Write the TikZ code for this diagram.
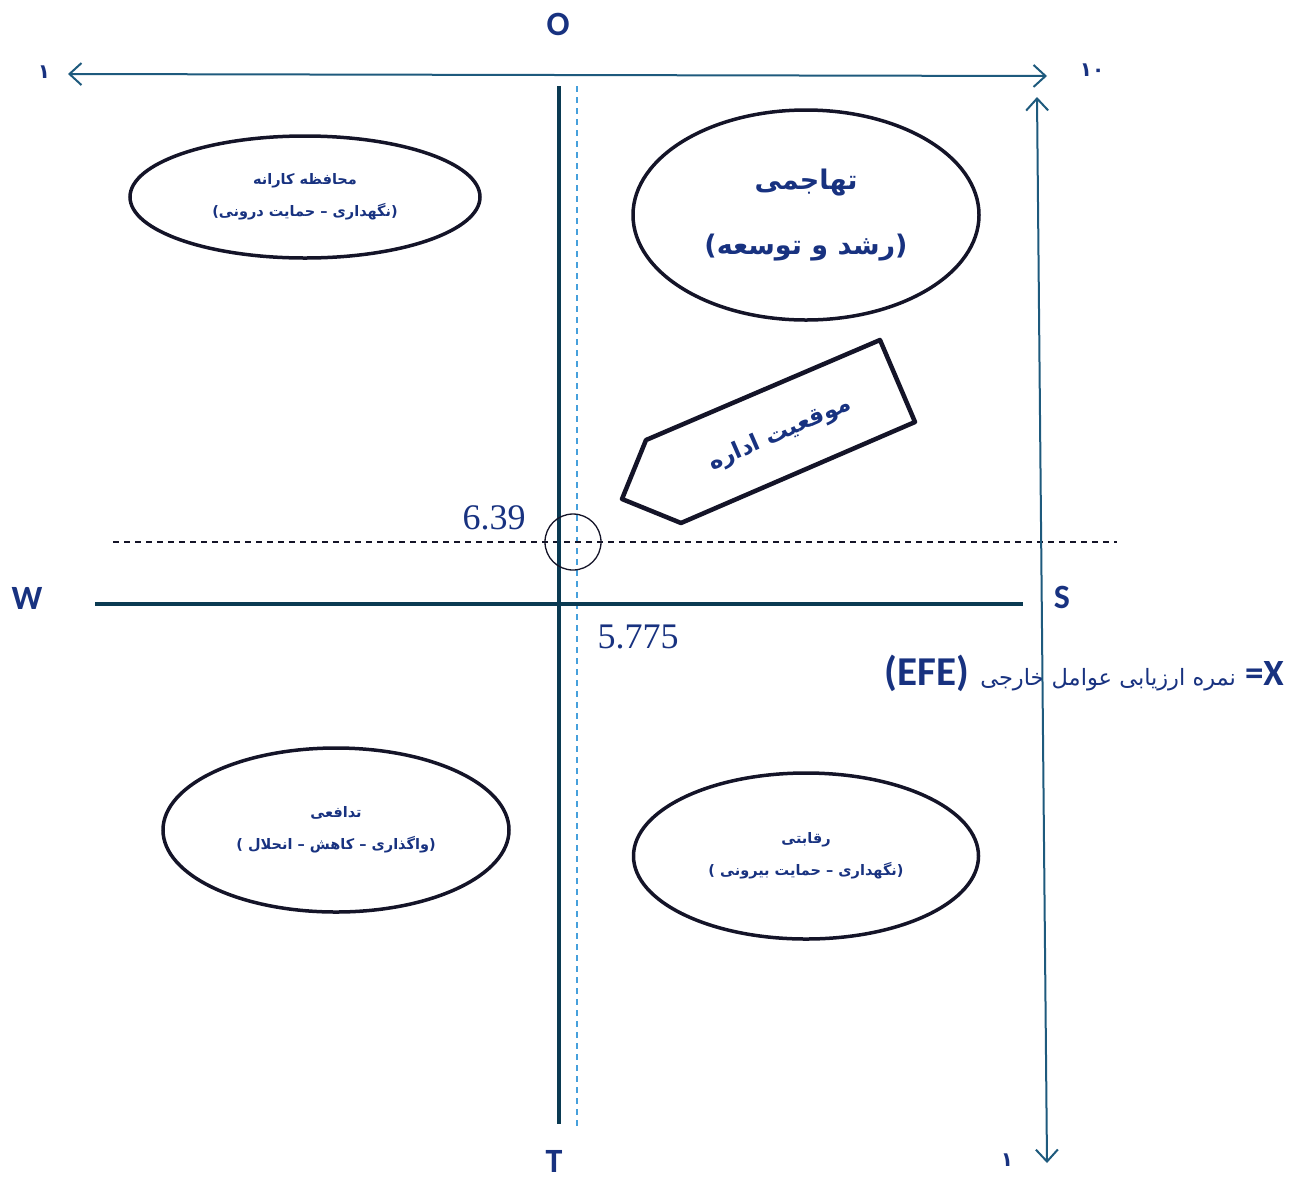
\documentclass[tikz,border=0pt]{standalone}
\usepackage{fontspec}
\setmainfont{Liberation Serif}
\newfontfamily\arabicfont[Script=Arabic]{DejaVu Sans}
\newfontfamily\labfont{Carlito}
\TeXXeTstate=1
\usetikzlibrary{shapes.geometric,arrows.meta}
\definecolor{txtblue}{RGB}{24,50,128}
\definecolor{axiscol}{RGB}{10,58,82}
\definecolor{arrcol}{RGB}{30,90,125}
\definecolor{dashblue}{RGB}{70,160,220}
\definecolor{inkcol}{RGB}{20,20,40}
\begin{document}
\begin{tikzpicture}[x=1pt,y=-1pt,
  axisline/.style={draw=axiscol,line width=4.5pt},
  scalearrow/.style={draw=arrcol,line width=2pt,{Straight Barb[length=12pt,width=22pt]}-{Straight Barb[length=12pt,width=22pt]}},
  quad/.style={ellipse,draw=inkcol,line width=3.5pt,inner sep=0pt,align=center,text=txtblue},
  axlabel/.style={text=txtblue,font=\labfont\bfseries\fontsize{34}{38}\selectfont,inner sep=0pt},
  numlabel/.style={text=txtblue,font=\fontsize{36}{40}\selectfont,inner sep=0pt},
  digit/.style={text=txtblue,font=\arabicfont\bfseries\fontsize{20}{24}\selectfont,inner sep=0pt},
  pentline/.style={draw=inkcol,line width=4.5pt,line join=round}
]
\useasboundingbox (0,0) rectangle (1300,1179);

% coordinates
\coordinate (vtop) at (559,86);
\coordinate (vbot) at (559,1124);
\coordinate (hl) at (95,604);
\coordinate (hr) at (1023,604);
\coordinate (dvt) at (577,86);
\coordinate (dvb) at (577,1130);
\coordinate (dhl) at (113,542);
\coordinate (dhr) at (1117,542);
\coordinate (tal) at (68,74);
\coordinate (tar) at (1047,76);
\coordinate (rat) at (1037,97);
\coordinate (rab) at (1047,1163);

% dashed guides
\draw[dashblue,line width=1.3pt,dash pattern=on 6pt off 5pt] (dvt) -- (dvb);
\draw[inkcol,line width=1.1pt,dash pattern=on 6pt off 5pt] (dhl) -- (dhr);

% axes
\draw[axisline] (vtop) -- (vbot);
\draw[axisline] (hl) -- (hr);

% marker circle
\node[circle,draw=inkcol,line width=1.3pt,minimum size=56pt,inner sep=0pt] (mark) at (573,542) {};

% numbers
\node[numlabel] (v639) at (494,518) {6.39};
\node[numlabel] (v5775) at (638,637) {5.775};

% axis labels
\node[axlabel] (O) at (558,24) {O};
\node[axlabel] (W) at (27,598) {W};
\node[axlabel] (S) at (1062,597) {S};
\node[axlabel,anchor=base] (T) at (554,1172) {T};

% scale digits
\node[digit] (one1) at (44,72) {۱};
\node[digit] (ten) at (1092,70) {۱۰};
\node[digit] (one2) at (1007,1160) {۱};

% quadrant ellipses
\node[quad,minimum width=350pt,minimum height=122pt,
  font=\arabicfont\bfseries\fontsize{14.5}{32}\selectfont] (wo) at (305,197)
  {\beginR محافظه کارانه\endR\\\beginR(نگهداری – حمایت درونی)\endR};
\node[quad,minimum width=346pt,minimum height=210pt,
  font=\arabicfont\bfseries\fontsize{27}{65}\selectfont] (so) at (806,215)
  {\beginR تهاجمی\endR\\\beginR(رشد و توسعه)\endR};
\node[quad,minimum width=346pt,minimum height=164pt,
  font=\arabicfont\bfseries\fontsize{14.5}{32}\selectfont] (wt) at (336,830)
  {\beginR تدافعی\endR\\\beginR(واگذاری – کاهش – انحلال )\endR};
\node[quad,minimum width=345pt,minimum height=166pt,
  font=\arabicfont\bfseries\fontsize{14.5}{32}\selectfont] (st) at (806,856)
  {\beginR رقابتی\endR\\\beginR(نگهداری – حمایت بیرونی )\endR};

% position arrow (pentagon)
\draw[pentline] (880,340) -- (915,422) -- (681,523) -- (622,499) -- (646,440) -- cycle;
\node[text=txtblue,font=\arabicfont\bfseries\fontsize{23}{26}\selectfont,rotate=23.6] (pos) at (780,434)
  {\beginR موقعیت اداره\endR};

% EFE caption
\node[anchor=base east,inner sep=0pt,text=txtblue] (efe) at (1284,685)
  {{\labfont\bfseries\fontsize{41}{44}\selectfont (EFE)}\hspace{11pt}{\arabicfont\fontsize{22.5}{26}\selectfont\beginR نمره ارزیابی عوامل خارجی\endR}\hspace{9pt}{\labfont\bfseries\fontsize{37}{40}\selectfont =X}};

% scale arrows
\draw[scalearrow] (tal) -- (tar);
\draw[scalearrow] (rat) -- (rab);
\end{tikzpicture}
\end{document}
